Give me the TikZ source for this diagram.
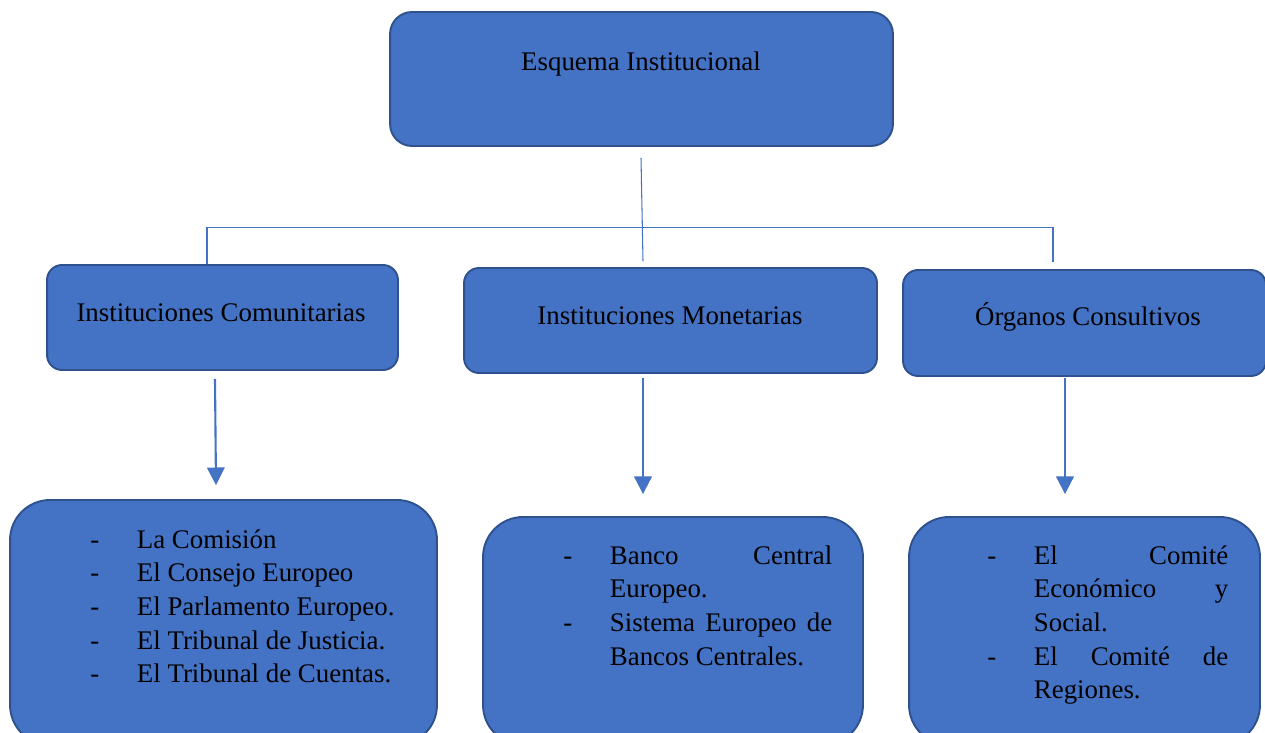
\documentclass[tikz,border=0pt]{standalone}
\usepackage{fontspec}
\setmainfont{Liberation Serif}
\usepackage{tikz}
\usetikzlibrary{arrows.meta}
\usetikzlibrary{calc}

\definecolor{azulcaja}{HTML}{4472C4}
\definecolor{azulborde}{HTML}{2F528F}

\newcommand{\guion}[1]{\noindent\hangindent=26.5pt\hangafter=1\makebox[26.5pt][l]{-}#1\par}

\tikzset{
  caja/.style={draw=azulborde, fill=azulcaja, line width=1.1pt, inner sep=0pt},
  rotulo/.style={font=\fontsize{15.3}{19.2}\selectfont, inner sep=0pt, anchor=base},
  lista/.style={font=\fontsize{15.3}{19.2}\selectfont, inner sep=0pt, anchor=base west, align=justify,
    execute at begin node={\hyphenpenalty=10000\relax\tolerance=9999\relax}},
  conector/.style={draw=azulcaja, line width=0.6pt},
  flecha/.style={draw=azulcaja, line width=1.2pt, -{Triangle[width=10pt,length=10pt]}}
}

\begin{document}
\begin{tikzpicture}[x=0.02cm, y=-0.02cm]
  \useasboundingbox (0,0) rectangle (1265,733);
  \clip (0,0) rectangle (1265,733);

  \node[caja, rounded corners=0.44cm, minimum width=10.06cm, minimum height=2.68cm] (esquema) at (641.5,79) {};
  \node[rotulo] (esquematxt) at (641,71) {Esquema Institucional};

  \node[caja, rounded corners=0.3cm, minimum width=7.02cm, minimum height=2.1cm] (comunit) at (222.5,317.5) {};
  \node[caja, rounded corners=0.3cm, minimum width=8.26cm, minimum height=2.1cm] (monet) at (670.5,320.5) {};
  \node[caja, rounded corners=0.3cm, minimum width=7.26cm, minimum height=2.12cm] (organos) at (1084.5,323) {};
  \node[rotulo] (comunittxt) at (221,321) {Instituciones Comunitarias};
  \node[rotulo] (monettxt) at (670,325) {Instituciones Monetarias};
  \node[rotulo] (organostxt) at (1088,326) {Órganos Consultivos};

  \node[caja, rounded corners=0.8cm, minimum width=8.54cm, minimum height=4.9cm] (caja1) at (223.5,622.5) {};
  \node[caja, rounded corners=0.8cm, minimum width=7.6cm, minimum height=4.56cm] (caja2) at (673,631) {};
  \node[caja, rounded corners=0.8cm, minimum width=7.02cm, minimum height=4.56cm] (caja3) at (1084.5,631) {};

  \node[lista, text width=6.5cm] (lista1) at (90,548)
    {\guion{La Comisión}\guion{El Consejo Europeo}\guion{El Parlamento Europeo.}\guion{El Tribunal de Justicia.}\guion{El Tribunal de Cuentas.}};
  \node[lista, text width=5.38cm] (lista2) at (563,564)
    {\guion{Banco Central Europeo.}\guion{Sistema Europeo de Bancos Centrales.}};
  \node[lista, text width=4.82cm] (lista3) at (987,564)
    {\guion{El Comité Económico y Social.}\guion{El Comité de Regiones.}};

  \draw[conector] ($(esquema.south)+(-0.5,11)$) -- ($(monet.north)+(-27.5,-6)$);
  \draw[conector] ($(comunit.north)+(-15.5,0)$) -- ++(0,-37) -| ($(organos.north)+(-31.5,-7)$);

  \draw[flecha] ($(comunit.south)+(-7.5,8)$) -- ($(caja1.north)+(-7.5,-14)$);
  \draw[flecha] ($(monet.south)+(-27.5,4)$) -- ($(caja2.north)+(-30,-22)$);
  \draw[flecha] ($(organos.south)+(-19.5,1)$) -- ($(caja3.north)+(-19.5,-22)$);
\end{tikzpicture}
\end{document}
